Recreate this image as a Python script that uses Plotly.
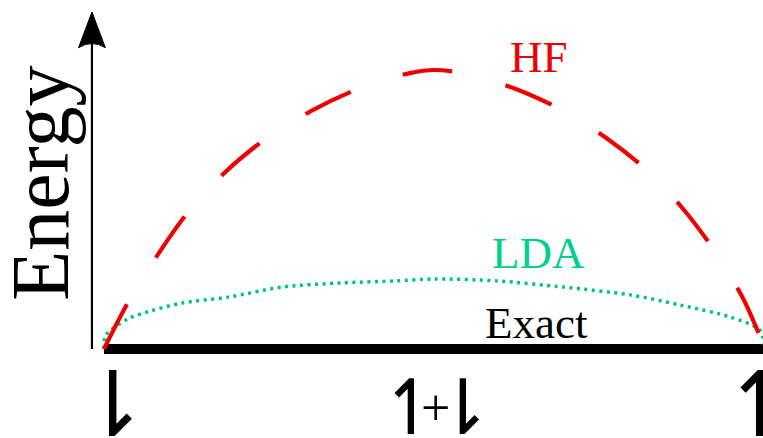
import plotly.graph_objects as go

# Data (x: fractional spin configuration, y: energy in arbitrary units)
x_hf = [0.0, 0.036, 0.080, 0.126, 0.182, 0.242, 0.313, 0.384, 0.463, 0.5,
        0.542, 0.620, 0.693, 0.762, 0.823, 0.880, 0.926, 0.968, 1.0]
y_hf = [0.0, 0.165, 0.333, 0.487, 0.631, 0.749, 0.853, 0.932, 0.989, 1.0,
        0.989, 0.935, 0.857, 0.753, 0.638, 0.491, 0.344, 0.176, 0.0]

x_lda = [0.0, 0.003, 0.036, 0.070, 0.118, 0.188, 0.269, 0.360, 0.440, 0.5,
         0.595, 0.695, 0.796, 0.871, 0.947, 0.992, 1.0]
y_lda = [0.0, 0.050, 0.108, 0.136, 0.165, 0.186, 0.222, 0.237, 0.244, 0.251,
         0.244, 0.222, 0.194, 0.158, 0.115, 0.068, 0.0]

x_exact = [0.0, 1.0]
y_exact = [0.0, 0.0]

# x tick labels (spin states); the middle one is "↿+⇂"
tick_pos = [0.0, 0.5, 1.0]
tick_text = ["⇂", "↿+⇂", "↿"]

labels = ["HF", "LDA", "Exact"]
label_x = [0.658, 0.658, 0.655]
label_y = [1.045, 0.345, 0.095]
label_col = ["#ee0000", "#00d08c", "#000000"]

serif = "Liberation Serif, Times New Roman, serif"
arrows_font = "DejaVu Sans"

fig = go.Figure()
fig.add_trace(go.Scatter(x=x_exact, y=y_exact, mode="lines",
                         line=dict(color="black", width=10), hoverinfo="skip"))
fig.add_trace(go.Scatter(x=x_lda, y=y_lda, mode="lines",
                         line=dict(color="#00c285", width=3.5, dash="3px,4.5px",
                                   shape="spline", smoothing=0.8),
                         hoverinfo="skip"))
fig.add_trace(go.Scatter(x=x_hf, y=y_hf, mode="lines",
                         line=dict(color="#f00000", width=4.2, dash="50px,55px",
                                   shape="spline", smoothing=0.8),
                         hoverinfo="skip"))

annotations = []
for t, xx, yy, c in zip(labels, label_x, label_y, label_col):
    annotations.append(dict(x=xx, y=yy, xref="x", yref="y", text=t, showarrow=False,
                            font=dict(family=serif, size=45, color=c)))

annotations.append(dict(x=-0.097, y=0.595, xref="x", yref="y", text="Energy",
                        textangle=-90, showarrow=False,
                        font=dict(family=serif, size=82, color="black")))

# end tick labels
annotations.append(dict(x=tick_pos[0] + 0.0136, y=-0.2, xref="x", yref="y",
                        text=tick_text[0], showarrow=False,
                        font=dict(family=arrows_font, size=90, weight=200, color="black")))
annotations.append(dict(x=tick_pos[2] - 0.009, y=-0.2, xref="x", yref="y",
                        text=tick_text[2], showarrow=False,
                        font=dict(family=arrows_font, size=90, weight=200, color="black")))
# middle tick label, its three characters placed to match the original spacing
mid_parts = list(tick_text[1])
mid_dx = [-0.035, 0.002, 0.043]
mid_fonts = [arrows_font, serif, arrows_font]
mid_sizes = [76, 52, 76]
for ch, dx, fam, sz in zip(mid_parts, mid_dx, mid_fonts, mid_sizes):
    annotations.append(dict(x=tick_pos[1] + dx, y=-0.21, xref="x", yref="y", text=ch,
                            showarrow=False,
                            font=dict(family=fam, size=sz, weight=200, color="black")))

shapes = [
    dict(type="line", xref="x", yref="y", x0=-0.0182, x1=-0.0182, y0=0.0, y1=1.12,
         line=dict(color="black", width=2.2)),
    dict(type="path", xref="x", yref="y",
         path="M -0.0182,1.208 L -0.0385,1.080 Q -0.0182,1.11 0.0021,1.080 Z",
         fillcolor="black", line=dict(color="black", width=1)),
]

fig.update_layout(
    width=763, height=438,
    margin=dict(l=0, r=0, t=0, b=0),
    paper_bgcolor="white", plot_bgcolor="white",
    showlegend=False,
    xaxis=dict(range=[-0.1573, 0.997], visible=False, fixedrange=True),
    yaxis=dict(range=[-0.319, 1.251], visible=False, fixedrange=True),
    annotations=annotations,
    shapes=shapes,
)

fig.write_html("out.html")
